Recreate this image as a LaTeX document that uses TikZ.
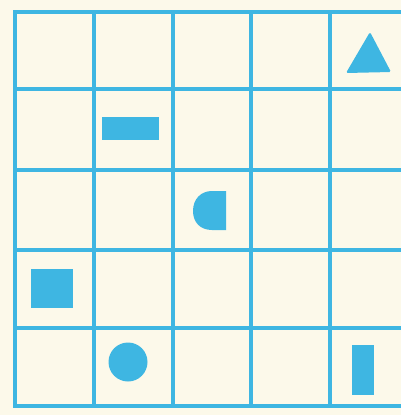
\documentclass[tikz,border=0pt]{standalone}
\definecolor{gridblue}{RGB}{62,182,226}
\definecolor{paper}{RGB}{252,249,234}
\begin{document}
\begin{tikzpicture}[x=1pt, y=-1pt]
    % 背景
    \fill[paper] (0,0) rectangle (401,415);
    \useasboundingbox (0,0) rectangle (401,415);
    % 网格
    \foreach \x in {15,94,173,251,330} {
        \draw[gridblue, line width=4.5pt, line cap=rect] (\x,12) -- (\x,406);
    }
    \foreach \y in {12,89,170,250,328,406} {
        \draw[gridblue, line width=4.5pt, line cap=rect] (15,\y) -- (402,\y);
    }
    % 三角形
    \fill[gridblue, rounded corners=1.5pt] (370,32) -- (391,72) -- (346,73) -- cycle;
    % 长方形
    \fill[gridblue] (102,117) rectangle (159,140);
    % 半圆形
    \fill[gridblue] (226,191) -- (226,230) -- (212,230)
        .. controls (200,230) and (193,222) .. (193,211)
        .. controls (193,199) and (201,191) .. (212,191) -- cycle;
    % 正方形
    \fill[gridblue] (31,269) rectangle (73,308);
    % 圆形
    \fill[gridblue] (128,362) circle (19.5);
    % 竖条
    \fill[gridblue] (352,345) rectangle (374,395);
\end{tikzpicture}
\end{document}
